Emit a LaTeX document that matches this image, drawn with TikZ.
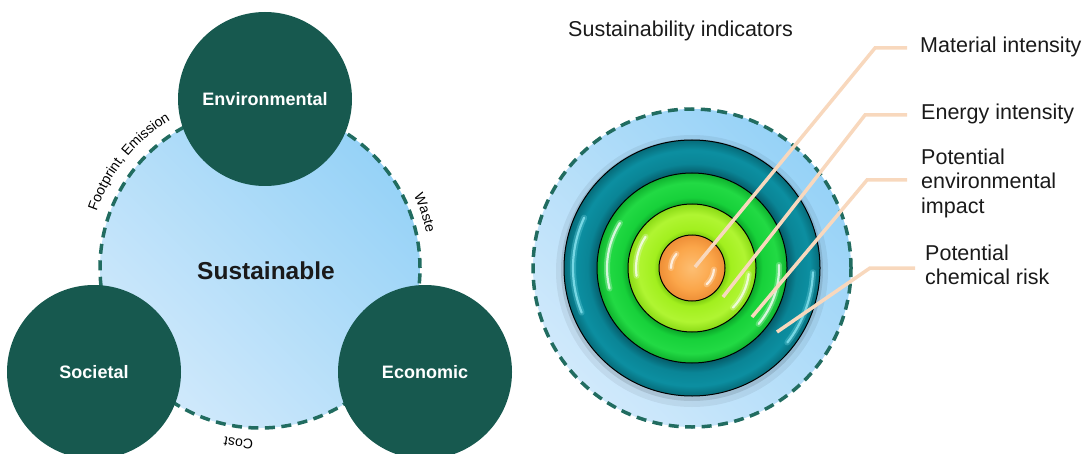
\documentclass[tikz,border=0pt]{standalone}
\usepackage{fontspec}
\setmainfont{Liberation Sans}
\usetikzlibrary{decorations.text,calc}

% palette
\definecolor{deepteal}{HTML}{17594F}
\definecolor{dashteal}{HTML}{216C60}
\definecolor{skylight}{HTML}{D0E9FB}
\definecolor{skydark}{HTML}{96D2F7}
\definecolor{leader}{HTML}{F8D8BD}
\definecolor{inktext}{HTML}{1A1A1A}
\definecolor{cyanglint}{HTML}{8FEAF6}
% ring tones
\definecolor{tealIn}{HTML}{055E6C}
\definecolor{tealMid}{HTML}{0A8596}
\definecolor{tealHi}{HTML}{0C8FA1}
\definecolor{tealOut}{HTML}{066B79}
\definecolor{grnIn}{HTML}{0CA82A}
\definecolor{grnMid}{HTML}{17D13A}
\definecolor{grnHi}{HTML}{22DA44}
\definecolor{grnOut}{HTML}{0FB22E}
\definecolor{limeIn}{HTML}{80CF12}
\definecolor{limeMid}{HTML}{A2EF1E}
\definecolor{limeHi}{HTML}{B0F532}
\definecolor{limeOut}{HTML}{8ADA15}
\definecolor{orgIn}{HTML}{FDBE72}
\definecolor{orgMid}{HTML}{FBA64A}
\definecolor{orgOut}{HTML}{EE8E36}

% band shadings: 25bp is the outer rim of each disc
\pgfdeclareradialshading{tealband}{\pgfpoint{0bp}{0bp}}{color(0bp)=(tealIn); color(18.6bp)=(tealIn); color(20.4bp)=(tealMid); color(23bp)=(tealHi); color(25bp)=(tealOut); color(50bp)=(tealOut)}
\pgfdeclareradialshading{greenband}{\pgfpoint{0bp}{0bp}}{color(0bp)=(grnIn); color(16.9bp)=(grnIn); color(18.6bp)=(grnMid); color(22.5bp)=(grnHi); color(25bp)=(grnOut); color(50bp)=(grnOut)}
\pgfdeclareradialshading{limeband}{\pgfpoint{0bp}{0bp}}{color(0bp)=(limeIn); color(13bp)=(limeIn); color(15bp)=(limeMid); color(21bp)=(limeHi); color(25bp)=(limeOut); color(50bp)=(limeOut)}
\pgfdeclareradialshading{orangecore}{\pgfpoint{0bp}{0bp}}{color(0bp)=(orgIn); color(16bp)=(orgMid); color(25bp)=(orgOut); color(50bp)=(orgOut)}

\newcommand{\arclabelfont}{\fontsize{14}{14}\selectfont}

\tikzset{
  pillar/.style={circle, inner sep=0pt, minimum size=174pt, fill=deepteal, text=white,
    font=\bfseries\fontsize{18}{18}\selectfont},
  dashrim/.style={circle, inner sep=0pt, draw=dashteal, line width=3.5pt,
    dash pattern=on 10pt off 6.5pt, top color=skydark, bottom color=skylight, shading angle=-45},
  ringline/.style={draw=black, line width=1pt},
  glosswide/.style={line width=6pt, line cap=round, opacity=0.25},
  glosscore/.style={line width=2.2pt, line cap=round, opacity=0.75},
  leaderline/.style={draw=leader, line width=3.5pt},
  indlabel/.style={anchor=west, inner sep=0pt, align=left, text=inktext,
    font=\fontsize{21.5}{24.5}\selectfont},
}

% a soft highlight streak: centre, radius, start angle, end angle, colour
\newcommand{\glint}[5]{%
  \draw[glosswide, #5] ($(#1)+(#3:#2)$) arc[start angle=#3, end angle=#4, radius=#2];
  \draw[glosscore, #5] ($(#1)+(#3:#2)$) arc[start angle=#3, end angle=#4, radius=#2];
}

\begin{document}
\begin{tikzpicture}[x=1pt,y=1pt]
\useasboundingbox (0,0) rectangle (1091,453);

% ---------- three pillars of sustainability ----------
\node[dashrim, minimum size=320pt] (sust) at (260,185) {};
\node[font=\bfseries\fontsize{24.5}{24.5}\selectfont, text=inktext] (sustlabel) at (266,182) {Sustainable};

\node[pillar] (env) at (265,354) {Environmental};
\node[pillar] (soc) at (94,81) {Societal};
\node[pillar] (eco) at (425,81) {Economic};

% labels that follow the rim
\path[decorate, decoration={text along path, text align=center,
  text={|\arclabelfont|Footprint{,} Emission}}]
  ($(sust.center)+(168:173pt)$) arc[start angle=168, end angle=114, radius=173pt];
\path[decorate, decoration={text along path, text align=center,
  text={|\arclabelfont|Waste}}]
  ($(sust.center)+(40:170pt)$) arc[start angle=40, end angle=-3, radius=170pt];
\path[decorate, decoration={text along path, text align=center,
  text={|\arclabelfont|Cost}}]
  ($(sust.center)+(285:172pt)$) arc[start angle=285, end angle=241, radius=172pt];

% ---------- indicator target ----------
\node[dashrim, minimum size=318pt] (target) at (692,185) {};
\coordinate (c) at (target.center);

% soft shadow under the rings
\fill[black, opacity=0.06] ($(c)+(0,-3)$) circle[radius=136pt];
\fill[black, opacity=0.10] ($(c)+(0,-2)$) circle[radius=131pt];

\shade[shading=tealband] (c) circle[radius=128pt];
\draw[ringline] (c) circle[radius=128pt];
\shade[shading=greenband] (c) circle[radius=95pt];
\draw[ringline] (c) circle[radius=95pt];
\shade[shading=limeband] (c) circle[radius=64pt];
\draw[ringline] (c) circle[radius=64pt];
\shade[shading=orangecore] (c) circle[radius=33pt];
\draw[ringline] (c) circle[radius=33pt];

% glossy streaks on each band
\glint{c}{119pt}{155}{202}{cyanglint}
\glint{c}{121pt}{-2}{-38}{cyanglint}
\glint{c}{85pt}{148}{194}{white}
\glint{c}{87pt}{2}{-40}{white}
\glint{c}{56pt}{146}{188}{white}
\glint{c}{57pt}{-6}{-44}{white}
\glint{c}{21pt}{138}{180}{white}
\glint{c}{22pt}{-4}{-48}{white}

% heading and indicator labels
\node[indlabel] (heading) at (568,422) {Sustainability indicators};
\node[indlabel] (matlabel) at (920,406) {Material intensity};
\node[indlabel] (enelabel) at (921,339) {Energy intensity};
\node[indlabel] (envlabel) at (921,270) {Potential\\environmental\\impact};
\node[indlabel] (chemlabel) at (925,188) {Potential\\chemical risk};

% leader lines
\coordinate (m0) at (695,186);  \coordinate (m1) at (875,405); \coordinate (m2) at (907,405);
\coordinate (e0) at (723,156);  \coordinate (e1) at (865,338); \coordinate (e2) at (907,338);
\coordinate (p0) at (752,136);  \coordinate (p1) at (867,273); \coordinate (p2) at (907,273);
\coordinate (k0) at (777,121);  \coordinate (k1) at (870,185); \coordinate (k2) at (915,185);
\draw[leaderline] (m0) -- (m1) -- (m2);
\draw[leaderline] (e0) -- (e1) -- (e2);
\draw[leaderline] (p0) -- (p1) -- (p2);
\draw[leaderline] (k0) -- (k1) -- (k2);
\end{tikzpicture}
\end{document}
